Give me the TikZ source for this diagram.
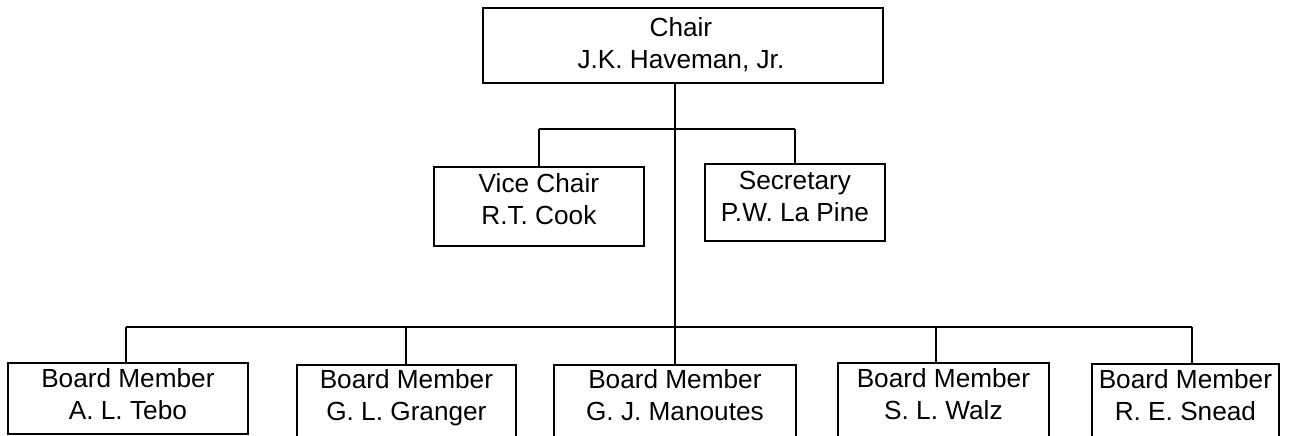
\documentclass[tikz,border=0pt]{standalone}
\usepackage{fontspec}
\setmainfont{Liberation Sans}
\begin{document}
\begin{tikzpicture}[x=1bp,y=-1bp,
  box/.style={draw=black,line width=1.8bp,rectangle,inner sep=0pt,anchor=north west},
  txt/.style={inner sep=0pt,anchor=north,align=center,font=\fontsize{26.2bp}{32bp}\selectfont},
  conn/.style={draw=black,line width=1.8bp}]
\useasboundingbox (0,0) rectangle (1290,436);
% boxes
\node[box,minimum width=400bp,minimum height=75bp] (chair) at (482,7) {};
\node[box,minimum width=210bp,minimum height=79bp] (vice) at (433,166) {};
\node[box,minimum width=180bp,minimum height=77bp] (sec) at (704,163) {};
\node[box,minimum width=240bp,minimum height=71bp] (b1) at (7,362) {};
\node[box,minimum width=219bp,minimum height=73bp] (b2) at (296,364) {};
\node[box,minimum width=242bp,minimum height=73bp] (b3) at (553,364) {};
\node[box,minimum width=211bp,minimum height=74bp] (b4) at (837,362) {};
\node[box,minimum width=187bp,minimum height=74bp] (b5) at (1091,363) {};
% texts
\node[txt] (tchair) at ([xshift=-2bp,yshift=-10bp]chair.north) {Chair\\J.K. Haveman, Jr.};
\node[txt] (tvice) at ([yshift=-7bp]vice.north) {Vice Chair\\R.T. Cook};
\node[txt] (tsec) at ([yshift=-8bp]sec.north) {Secretary\\P.W. La Pine};
\node[txt] (tb1) at ([yshift=-6bp]b1.north) {Board Member\\A. L. Tebo};
\node[txt] (tb2) at ([yshift=-5bp]b2.north) {Board Member\\G. L. Granger};
\node[txt] (tb3) at ([yshift=-5bp]b3.north) {Board Member\\G. J. Manoutes};
\node[txt] (tb4) at ([yshift=-6bp]b4.north) {Board Member\\S. L. Walz};
\node[txt] (tb5) at ([yshift=-6bp]b5.north) {Board Member\\R. E. Snead};
% bus coordinates
\coordinate (ub) at (675,129);
\coordinate (lb) at (675,327);
\coordinate (d1) at (126,327);
\coordinate (d2) at (406,327);
\coordinate (d4) at (936,327);
\coordinate (d5) at (1192,327);
% connectors
\draw[conn] (b3.north |- chair.south) -- (b3.north);
\draw[conn] (vice.north |- ub) -- (sec.north |- ub);
\draw[conn] (vice.north |- ub) -- (vice.north);
\draw[conn] (sec.north |- ub) -- (sec.north);
\draw[conn] (d1) -- (d5);
\draw[conn] (d1) -- (d1 |- b1.north);
\draw[conn] (d2) -- (d2 |- b2.north);
\draw[conn] (d4) -- (d4 |- b4.north);
\draw[conn] (d5) -- (d5 |- b5.north);
\end{tikzpicture}
\end{document}
